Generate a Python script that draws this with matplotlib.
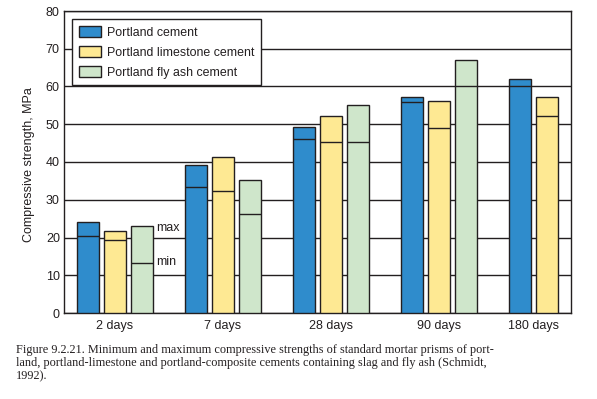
import matplotlib
matplotlib.use("Agg")
import matplotlib.pyplot as plt
import numpy as np

categories = ["2 days", "7 days", "28 days", "90 days", "180 days"]
series = ["Portland cement", "Portland limestone cement", "Portland fly ash cement"]
max_pc = [24.0, 39.1, 49.2, 57.1, 61.9]
min_pc = [20.3, 33.3, 46.0, 55.8, 60.1]
max_plc = [21.6, 41.3, 52.1, 56.1, 57.1]
min_plc = [19.3, 32.2, 45.2, 48.9, 52.1]
max_pfa = [23.0, 35.1, 55.0, 66.9, None]
min_pfa = [13.2, 26.2, 45.2, 60.1, None]
yticks = [0, 10, 20, 30, 40, 50, 60, 70, 80]
colors = ["#2f8ccc", "#fee993", "#cfe6cb"]
caption = ("Figure 9.2.21. Minimum and maximum compressive strengths of standard mortar prisms of port-\n"
           "land, portland-limestone and portland-composite cements containing slag and fly ash (Schmidt,\n"
           "1992).")

ink = "#231f20"
plt.rcParams['font.family'] = ['Liberation Sans', 'DejaVu Sans']

fig = plt.figure(figsize=(5.97, 3.99), dpi=100)
ax = fig.add_axes([64/597, 1-313/399, 507/597, 302/399])

x = np.arange(len(categories))
w = 0.204
off = 0.25
maxs = [max_pc, max_plc, max_pfa]
mins = [min_pc, min_plc, min_pfa]
handles = []
for i in range(3):
    xs, hs, ms = [], [], []
    for j in range(len(categories)):
        if maxs[i][j] is None:
            continue
        xs.append(x[j] + (i - 1) * off)
        hs.append(maxs[i][j])
        ms.append(mins[i][j])
    b = ax.bar(xs, hs, width=w, color=colors[i], edgecolor=ink, linewidth=1.0,
               zorder=3, label=series[i])
    ax.hlines(ms, np.array(xs) - w/2, np.array(xs) + w/2, color=ink, linewidth=1.0, zorder=4)
    handles.append(b)

# max / min annotation on first fly ash bar
gx = x[0] + off + w/2
ax.annotate("max", xy=(gx, max_pfa[0] - 0.6), xytext=(2.5, 0), textcoords="offset points",
            ha="left", va="center", fontsize=9, color=ink)
ax.annotate("min", xy=(gx, min_pfa[0] + 0.2), xytext=(2.5, 0), textcoords="offset points",
            ha="left", va="center", fontsize=9, color=ink)

ax.set_xlim(-0.472, 4.222)
ax.set_ylim(0, 80)
ax.set_yticks(yticks)
ax.set_yticklabels([str(t) for t in yticks])
tickpos = list(x[:4]) + [x[4] - off/2]
ax.set_xticks(tickpos)
ax.set_xticklabels(categories)
ax.tick_params(axis='both', length=0, labelsize=9, colors=ink)
ax.tick_params(axis='x', pad=5)
ax.tick_params(axis='y', pad=3)
ax.yaxis.grid(True, color=ink, linewidth=1.0)
ax.set_axisbelow(True)
for s in ax.spines.values():
    s.set_color(ink)
    s.set_linewidth(1.0)

ax.set_ylabel("Compressive strength, MPa", fontsize=9, color=ink)
ax.yaxis.set_label_coords(-0.057, 0.49)

leg = ax.legend(handles=handles, loc="upper left", bbox_to_anchor=(0.0152, 0.9725),
                borderaxespad=0, fontsize=8.9, frameon=True, fancybox=False,
                edgecolor=ink, handlelength=1.85, handleheight=0.95,
                handletextpad=0.45, labelspacing=0.6, borderpad=0.55)
leg.get_frame().set_linewidth(1.0)
leg.get_frame().set_alpha(1)
for t in leg.get_texts():
    t.set_color(ink)
leg.set_zorder(5)

fig.text(16/597, 1-344/399, caption, family=['Liberation Serif', 'DejaVu Serif'],
         fontsize=8.85, color=ink, ha="left", va="top", linespacing=1.15)

fig.savefig("out.png", dpi=100, facecolor="white")
